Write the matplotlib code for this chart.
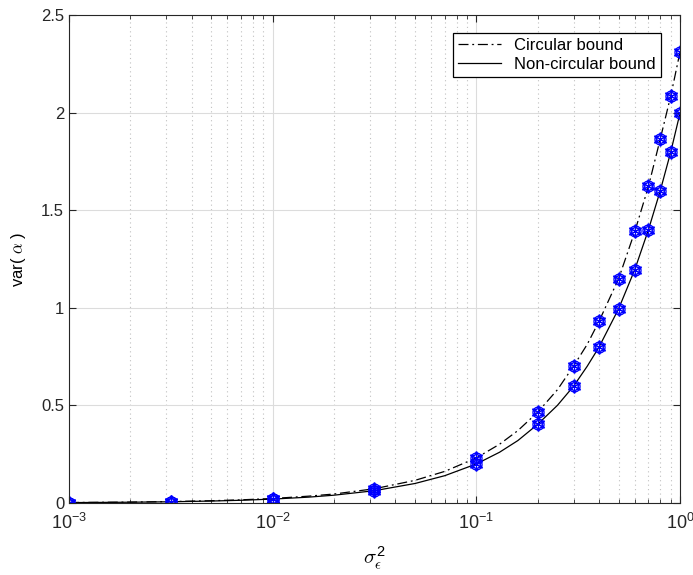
import matplotlib
matplotlib.use("Agg")
import matplotlib.pyplot as plt
import numpy as np

plt.rcParams['font.family'] = ['Liberation Sans', 'DejaVu Sans']
plt.rcParams['mathtext.fontset'] = 'cm'

# marker positions (sigma_eps^2)
x_pts = [0.001, 0.00316, 0.01, 0.0316, 0.1, 0.2, 0.3, 0.4, 0.5, 0.6, 0.7, 0.8, 0.9, 1.0]
circ_pts = [0.002, 0.007, 0.023, 0.072, 0.231, 0.465, 0.701, 0.930, 1.15, 1.391, 1.622, 1.865, 2.084, 2.31]
noncirc_pts = [0.002, 0.0063, 0.02, 0.063, 0.20, 0.403, 0.598, 0.798, 0.996, 1.196, 1.40, 1.60, 1.797, 1.997]

# curves read at more positions
x_line = [0.001, 0.002, 0.00316, 0.005, 0.007, 0.01, 0.015, 0.02, 0.0316, 0.05, 0.07, 0.1,
          0.13, 0.16, 0.2, 0.25, 0.3, 0.35, 0.4, 0.5, 0.6, 0.7, 0.8, 0.9, 1.0]
circ_line = [0.0023, 0.0046, 0.0073, 0.0116, 0.0162, 0.023, 0.035, 0.046, 0.073, 0.116, 0.162, 0.231,
             0.301, 0.371, 0.465, 0.58, 0.701, 0.812, 0.930, 1.15, 1.391, 1.622, 1.865, 2.084, 2.31]
noncirc_line = [0.002, 0.004, 0.0063, 0.01, 0.014, 0.02, 0.03, 0.04, 0.063, 0.10, 0.14, 0.20,
                0.26, 0.32, 0.403, 0.50, 0.598, 0.70, 0.798, 0.996, 1.196, 1.40, 1.60, 1.797, 1.997]

xticks = [1e-3, 1e-2, 1e-1, 1]
xtick_labels = [r'$\mathregular{10^{-3}}$', r'$\mathregular{10^{-2}}$',
                r'$\mathregular{10^{-1}}$', r'$\mathregular{10^{0}}$']
yticks = [0, 0.5, 1, 1.5, 2, 2.5]
ytick_labels = ['0', '0.5', '1', '1.5', '2', '2.5']

fig = plt.figure(figsize=(6.93, 5.75), dpi=100)
ax = fig.add_axes([69 / 693, 72 / 575, 611 / 693, 488 / 575])

ax.plot(x_line, circ_line, color='k', lw=0.9, ls=(0, (8, 3, 1.5, 3)), label='Circular bound')
ax.plot(x_line, noncirc_line, '-', color='k', lw=0.9, label='Non-circular bound')

# blue marker: circle + hexagram + asterisk stacked
for ys in (circ_pts, noncirc_pts):
    ax.plot(x_pts, ys, ls='none', marker='o', ms=8, mfc='none', mec='blue', mew=0.9)
    ax.plot(x_pts, ys, ls='none', marker=(6, 1, 0), ms=10, mfc='none', mec='blue', mew=1.0)
    ax.plot(x_pts, ys, ls='none', marker=(6, 2, 0), ms=7, mec='blue', mew=0.8)

ax.set_xscale('log')
ax.set_xlim(1e-3, 1)
ax.set_ylim(0, 2.5)
ax.set_xticks(xticks)
ax.set_xticklabels(xtick_labels)
ax.set_yticks(yticks)
ax.set_yticklabels(ytick_labels)

ax.grid(True, which='major', color='#dcdcdc', lw=0.8, ls='-')
ax.grid(True, which='minor', axis='x', color='#c0c0c0', lw=0.8, ls=(0, (1, 3)))
ax.set_axisbelow(True)

ax.tick_params(which='both', direction='in', top=True, right=True, labelsize=12, colors='#262626')
ax.tick_params(which='major', length=5)
ax.tick_params(which='minor', length=3)
ax.tick_params(axis='x', which='major', pad=7, labelsize=13)
for s in ax.spines.values():
    s.set_color('#262626')
    s.set_linewidth(0.8)

ax.set_xlabel(r'$\sigma_\epsilon^\mathregular{2}$', fontsize=15)
ax.xaxis.set_label_coords(0.5, -0.085)
ax.set_ylabel(r'var( $\alpha$ )', fontsize=12)
ax.yaxis.set_label_coords(-0.067, 0.5)

leg = ax.legend(loc='upper right', bbox_to_anchor=(0.969, 0.963), borderaxespad=0,
                fancybox=False, edgecolor='k', framealpha=1, fontsize=12,
                handlelength=2.6, borderpad=0.3, labelspacing=0.25)
leg.get_frame().set_linewidth(0.9)

fig.savefig('out.png', dpi=100)
